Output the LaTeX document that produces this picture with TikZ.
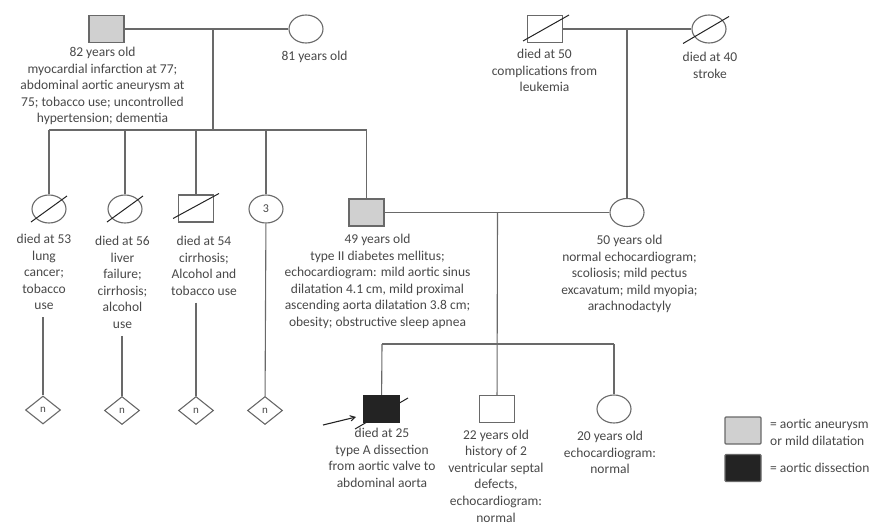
\documentclass[tikz,border=0pt]{standalone}
\usepackage{fontspec}
\setmainfont{Carlito}
\usetikzlibrary{arrows,shapes.geometric,calc}
\definecolor{lnc}{RGB}{105,105,105}
\definecolor{txc}{RGB}{72,72,72}
\definecolor{affc}{RGB}{208,208,208}
\definecolor{dsc}{RGB}{35,35,35}
\begin{document}
\begin{tikzpicture}[x=1pt,y=-1pt]
	\tikzstyle{every node}=[inner sep=0pt]
	\tikzstyle{male}=[draw=lnc,line width=1.1pt,rectangle,minimum width=35pt,minimum height=27pt]
	\tikzstyle{female}=[draw=lnc,line width=1.1pt,ellipse,minimum width=34pt,minimum height=28pt]
	\tikzstyle{unk}=[draw=lnc,line width=1.1pt,diamond,minimum width=35pt,minimum height=28pt,text=txc,font=\fontsize{11}{11}\selectfont]
	\tikzstyle{lbl}=[anchor=north,align=center,text=txc,font=\fontsize{13.5}{16.6}\selectfont]
	\tikzstyle{ln}=[draw=lnc,line width=1.1pt]
	\tikzstyle{dead}=[draw=dsc,line width=1pt]
	\useasboundingbox (0,0) rectangle (872,525);
	% generation I
	\draw (106.5,29) node (g1) [male,fill=affc] {};
	\draw (306,29) node (g2) [female] {};
	\draw (545,29) node (g3) [male] {};
	\draw (709,29) node (g4) [female] {};
	\draw (102.5,47) node (t0) [lbl] {82 years old\\myocardial infarction at 77;\\abdominal aortic aneurysm at\\75; tobacco use; uncontrolled\\hypertension; dementia};
	\draw (314.5,51) node (t00) [lbl] {81 years old};
	\draw (544.5,49) node (t01) [lbl] {died at 50\\complications from\\leukemia};
	\draw (710,52) node (t02) [lbl] {died at 40\\stroke};
	\draw[dead] ([shift={(-22,12)}]g3.center) -- ([shift={(24,-14)}]g3.center);
	\draw[dead] ([shift={(-26,14.5)}]g4.center) -- ([shift={(20,-12.5)}]g4.center);
	\coordinate (c1) at (213,29);
	\coordinate (c2) at (213,130);
	\coordinate (c3) at (627,29);
	\coordinate (b1) at (49,130);
	\coordinate (b2) at (125,130);
	\coordinate (b3) at (196,130);
	\coordinate (b4) at (266,130);
	\coordinate (b5) at (366.5,130);
	\draw[ln] (g1) -- (g2);
	\draw[ln] (g3) -- (g4);
	\draw[ln] (c1) -- (c2);
	\draw[ln] (b1) -- (b5);
	% generation II
	\draw (49,209) node (k1) [female] {};
	\draw (125,209) node (k2) [female] {};
	\draw (196,208.5) node (k3) [male] {};
	\draw (266,209) node (k4) [female,text=txc,font=\fontsize{12}{12}\selectfont] {3};
	\draw (366.5,212.5) node (f) [male,fill=affc] {};
	\draw (627,212.5) node (m) [female] {};
	\draw[dead] ([shift={(-18,13)}]k1.center) -- ([shift={(18,-13)}]k1.center);
	\draw[dead] ([shift={(-18,13)}]k2.center) -- ([shift={(18,-13)}]k2.center);
	\draw[dead] ([shift={(-23,10)}]k3.center) -- ([shift={(23,-15)}]k3.center);
	\draw[ln] (b1) -- (k1);
	\draw[ln] (b2) -- (k2);
	\draw[ln] (b3) -- (k3);
	\draw[ln] (b4) -- (k4);
	\draw[ln] (b5) -- (f);
	\draw[ln] (c3) -- (m);
	\draw[ln] (f) -- (m);
	\draw (44,234) node (t1) [lbl] {died at 53\\lung\\cancer;\\tobacco\\use};
	\draw (122.5,236) node (t2) [lbl] {died at 56\\liver\\failure;\\cirrhosis;\\alcohol\\use};
	\draw (204,236) node (t3) [lbl] {died at 54\\cirrhosis;\\Alcohol and\\tobacco use};
	\draw (377.5,234) node (t4) [lbl] {49 years old\\type II diabetes mellitus;\\echocardiogram: mild aortic sinus\\dilatation 4.1 cm, mild proximal\\ascending aorta dilatation 3.8 cm;\\obesity; obstructive sleep apnea};
	\draw (629.5,235) node (t5) [lbl] {50 years old\\normal echocardiogram;\\scoliosis; mild pectus\\excavatum; mild myopia;\\arachnodactyly};
	% offspring of the siblings
	\draw (43,410) node (d1) [unk] {n};
	\draw (122,410.5) node (d2) [unk] {n};
	\draw (196,410.5) node (d3) [unk] {n};
	\draw (265,410.5) node (d4) [unk] {n};
	\draw[ln] ($(t1.south -| d1)+(0,7)$) -- (d1);
	\draw[ln] ($(t2.south -| d2)+(0,7)$) -- (d2);
	\draw[ln] ($(t3.south -| d3)+(0,7)$) -- (d3);
	\draw[ln] (k4) -- (d4);
	% generation III
	\coordinate (c4) at (497.5,212.5);
	\coordinate (b6) at (382,344);
	\coordinate (b8) at (614,344);
	\draw[dead] (355,429) -- (408,398);
	\draw (381.5,409) node (s1) [male,fill=dsc,draw=dsc] {};
	\draw (497,409) node (s2) [male] {};
	\draw (614,409) node (s3) [female] {};
	\draw[ln] (b6) -- (b8);
	\draw[ln] (c4) -- (s2);
	\draw[ln] (b6) -- (s1);
	\draw[ln] (b8) -- (s3);
	\coordinate (a1) at (323,425);
	\coordinate (a2) at (356,417);
	\draw[dsc,line width=1.1pt,->,>=angle 60] (a1) -- (a2);
	\draw (382,428) node (t6) [lbl] {died at 25\\type A dissection\\from aortic valve to\\abdominal aorta};
	\draw (496,429.5) node (t7) [lbl] {22 years old\\history of 2\\ventricular septal\\defects,\\echocardiogram:\\normal};
	\draw (610,431) node (t8) [lbl] {20 years old\\echocardiogram:\\normal};
	% legend
	\draw (743,430.5) node (l1) [male,fill=affc,minimum width=36pt,rounded corners=1pt] {};
	\draw (743,468) node (l2) [male,fill=dsc,minimum width=36pt,rounded corners=1pt] {};
	\draw (770,419) node (t9) [lbl,anchor=north west,align=left] {= aortic aneurysm\\or mild dilatation};
	\draw (770,468) node (t10) [lbl,anchor=west] {= aortic dissection};
\end{tikzpicture}
\end{document}
